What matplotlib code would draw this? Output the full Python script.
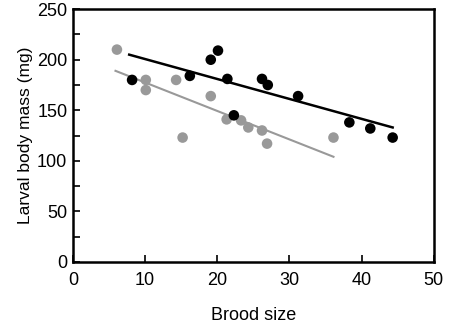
import matplotlib
matplotlib.use('Agg')
import matplotlib.pyplot as plt
import numpy as np

plt.rcParams['font.family'] = ['Liberation Sans', 'DejaVu Sans']

# black group
black_x = [8.2, 16.2, 19.1, 20.1, 21.4, 22.3, 26.2, 27.0, 31.2, 38.3, 41.2, 44.3]
black_y = [180, 184, 200, 209, 181, 145, 181, 175, 164, 138, 132, 123]
black_line_x = [7.8, 44.3]
black_line_y = [205, 133]

# gray group
gray_x = [6.1, 10.1, 10.1, 14.3, 15.2, 19.1, 21.3, 23.3, 24.3, 26.2, 26.9, 36.1]
gray_y = [210, 180, 170, 180, 123, 164, 141, 140, 133, 130, 117, 123]
gray_line_x = [5.9, 36.1]
gray_line_y = [189, 104]

x_ticks = [0, 10, 20, 30, 40, 50]
y_ticks = [0, 50, 100, 150, 200, 250]
y_minor = [25, 75, 125, 175, 225]

GRAY = '#999999'

fig = plt.figure(figsize=(4.5, 3.27), dpi=100)
ax = fig.add_axes([0.162, 0.199, 0.802, 0.773])

ax.plot(black_line_x, black_line_y, color='black', lw=1.8, zorder=2)
ax.plot(gray_line_x, gray_line_y, color=GRAY, lw=1.5, zorder=2)
ax.scatter(gray_x, gray_y, s=58, color=GRAY, edgecolors='none', zorder=3)
ax.scatter(black_x, black_y, s=58, color='black', edgecolors='none', zorder=4)

ax.set_xlim(0, 50)
ax.set_ylim(0, 250)
ax.set_xticks(x_ticks)
ax.set_yticks(y_ticks)
ax.set_yticks(y_minor, minor=True)
ax.tick_params(axis='both', which='both', direction='in', length=5, width=1.2,
               labelsize=13, top=False, right=False)
ax.tick_params(axis='x', pad=7)
ax.tick_params(axis='y', pad=4)
for sp in ax.spines.values():
    sp.set_linewidth(1.8)

ax.set_xlabel('Brood size', fontsize=13, labelpad=13)
ax.set_ylabel('Larval body mass (mg)', fontsize=12.5, labelpad=3)

fig.savefig('out.png', dpi=100)
